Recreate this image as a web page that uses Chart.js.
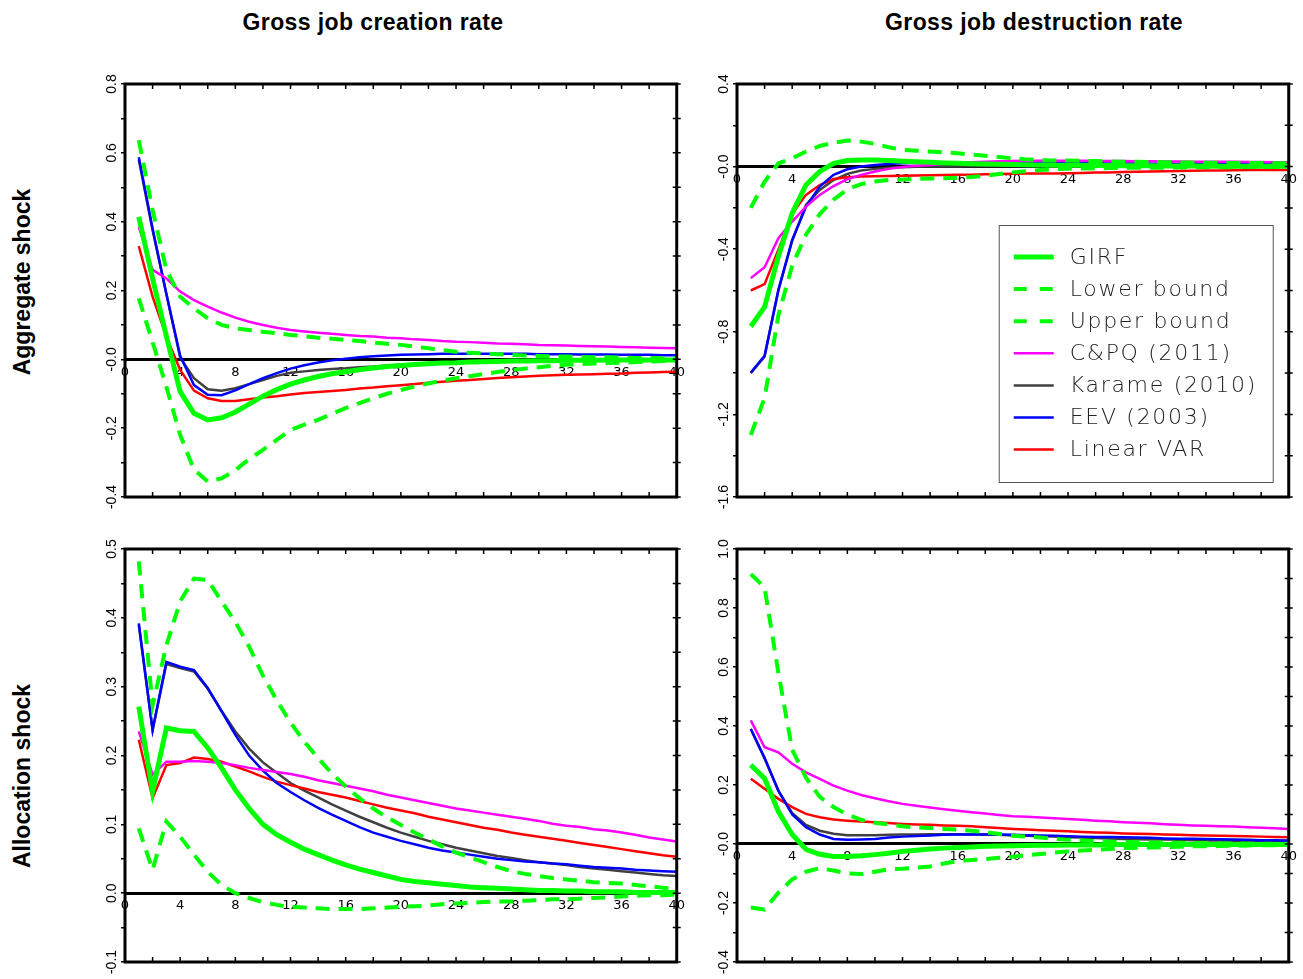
<!DOCTYPE html>
<html>
<head>
<meta charset="utf-8">
<script src="https://cdn.jsdelivr.net/npm/chart.js@4.4.1/dist/chart.umd.min.js"></script>
<style>
  body { margin: 0; background: #fff; width: 1303px; height: 979px; position: relative; overflow: hidden; }
  .panel { position: absolute; width: 600px; height: 440px; }
  .title { position: absolute; top: 11px; width: 400px; text-align: center; font: bold 23px "Liberation Sans", Arial, sans-serif; line-height: 23px; letter-spacing: 0.4px; color: #000; }
  .rowlab { position: absolute; font: bold 23px "Liberation Sans", Arial, sans-serif; line-height: 23px; white-space: nowrap; transform: translate(-50%, -50%) rotate(-90deg); color: #000; }
</style>
</head>
<body>
<div class="title" style="left:173px">Gross job creation rate</div>
<div class="title" style="left:834px">Gross job destruction rate</div>
<div class="rowlab" style="left:22px; top:282px">Aggregate shock</div>
<div class="rowlab" style="left:22px; top:776px">Allocation shock</div>

<div class="panel" style="left:90px; top:70px"><canvas id="jcAgg"></canvas></div>
<div class="panel" style="left:702px; top:70px"><canvas id="jdAgg"></canvas></div>
<div class="panel" style="left:90px; top:535px"><canvas id="jcAll"></canvas></div>
<div class="panel" style="left:702px; top:535px"><canvas id="jdAll"></canvas></div>

<script>
const horizons = [1,2,3,4,5,6,7,8,9,10,11,12,13,14,15,16,17,18,19,20,21,22,23,24,25,26,27,28,29,30,31,32,33,34,35,36,37,38,39,40];
const seriesNames = ["GIRF", "Lower bound", "Upper bound", "C&PQ (2011)", "Karame (2010)", "EEV (2003)", "Linear VAR"];

// job creation, aggregate shock
const jcAggGirf = [0.414,0.235,0.067,-0.094,-0.157,-0.176,-0.17,-0.153,-0.13,-0.107,-0.088,-0.072,-0.06,-0.05,-0.042,-0.036,-0.03,-0.025,-0.021,-0.018,-0.015,-0.013,-0.011,-0.01,-0.008,-0.007,-0.006,-0.005,-0.005,-0.004,-0.004,-0.003,-0.003,-0.003,-0.002,-0.002,-0.002,-0.002,-0.002,-0.002];
const jcAggLower = [0.177,0.05,-0.08,-0.22,-0.32,-0.355,-0.346,-0.322,-0.29,-0.263,-0.234,-0.205,-0.19,-0.176,-0.158,-0.142,-0.127,-0.113,-0.1,-0.089,-0.079,-0.07,-0.062,-0.055,-0.049,-0.043,-0.037,-0.031,-0.027,-0.023,-0.019,-0.016,-0.014,-0.012,-0.011,-0.01,-0.008,-0.007,-0.005,-0.004];
const jcAggUpper = [0.637,0.434,0.26,0.182,0.148,0.119,0.1,0.09,0.085,0.08,0.076,0.071,0.067,0.063,0.06,0.056,0.053,0.049,0.045,0.042,0.037,0.032,0.027,0.022,0.019,0.017,0.015,0.013,0.011,0.01,0.009,0.008,0.007,0.006,0.006,0.005,0.004,0.004,0.003,0.003];
const jcAggCpq = [0.385,0.26,0.235,0.197,0.172,0.153,0.136,0.121,0.109,0.1,0.092,0.085,0.081,0.077,0.074,0.071,0.068,0.066,0.063,0.061,0.058,0.056,0.053,0.051,0.05,0.048,0.046,0.045,0.044,0.042,0.041,0.04,0.039,0.038,0.037,0.036,0.035,0.034,0.033,0.032];
const jcAggKarame = [0.58,0.375,0.19,0.005,-0.055,-0.087,-0.091,-0.084,-0.072,-0.06,-0.048,-0.039,-0.035,-0.031,-0.028,-0.026,-0.023,-0.021,-0.018,-0.016,-0.014,-0.012,-0.01,-0.009,-0.008,-0.007,-0.006,-0.005,-0.005,-0.004,-0.004,-0.004,-0.003,-0.003,-0.003,-0.003,-0.002,-0.002,-0.002,-0.002];
const jcAggEev = [0.587,0.38,0.19,0.01,-0.075,-0.103,-0.104,-0.09,-0.072,-0.055,-0.04,-0.027,-0.017,-0.009,-0.003,0.002,0.006,0.009,0.011,0.013,0.014,0.015,0.016,0.016,0.016,0.016,0.016,0.016,0.016,0.015,0.015,0.015,0.014,0.014,0.014,0.013,0.013,0.013,0.012,0.012];
const jcAggVar = [0.329,0.182,0.066,-0.031,-0.091,-0.113,-0.121,-0.121,-0.116,-0.111,-0.107,-0.102,-0.098,-0.095,-0.092,-0.089,-0.085,-0.082,-0.078,-0.075,-0.072,-0.068,-0.065,-0.062,-0.06,-0.057,-0.054,-0.052,-0.05,-0.048,-0.046,-0.045,-0.044,-0.043,-0.042,-0.041,-0.039,-0.038,-0.037,-0.036];

// job destruction, aggregate shock
const jdAggGirf = [-0.774,-0.68,-0.435,-0.226,-0.089,-0.024,0.016,0.029,0.032,0.032,0.03,0.026,0.023,0.021,0.018,0.016,0.014,0.013,0.011,0.01,0.009,0.008,0.007,0.006,0.006,0.005,0.005,0.004,0.004,0.004,0.003,0.003,0.003,0.003,0.002,0.002,0.002,0.002,0.002,0.002];
const jdAggLower = [-1.3,-1.12,-0.72,-0.48,-0.33,-0.23,-0.16,-0.11,-0.085,-0.072,-0.065,-0.062,-0.06,-0.058,-0.056,-0.054,-0.05,-0.044,-0.036,-0.028,-0.022,-0.017,-0.013,-0.01,-0.009,-0.008,-0.007,-0.006,-0.006,-0.005,-0.005,-0.004,-0.004,-0.003,-0.003,-0.003,-0.002,-0.002,-0.002,-0.002];
const jdAggUpper = [-0.2,-0.073,0.016,0.04,0.073,0.1,0.116,0.126,0.121,0.11,0.094,0.081,0.077,0.073,0.069,0.065,0.058,0.052,0.046,0.04,0.035,0.031,0.03,0.029,0.028,0.027,0.025,0.024,0.023,0.022,0.021,0.02,0.02,0.019,0.018,0.018,0.017,0.017,0.016,0.016];
const jdAggCpq = [-0.54,-0.487,-0.347,-0.266,-0.194,-0.137,-0.094,-0.061,-0.04,-0.024,-0.011,-0.002,0.004,0.008,0.013,0.018,0.021,0.024,0.026,0.027,0.028,0.028,0.028,0.028,0.028,0.027,0.027,0.027,0.026,0.026,0.025,0.025,0.024,0.024,0.023,0.023,0.022,0.022,0.021,0.021];
const jdAggKarame = [-1.0,-0.92,-0.6,-0.36,-0.185,-0.113,-0.065,-0.035,-0.019,-0.011,-0.006,-0.003,-0.001,0.0,0.001,0.001,0.002,0.002,0.002,0.002,0.002,0.002,0.002,0.002,0.002,0.002,0.002,0.002,0.002,0.002,0.002,0.002,0.002,0.002,0.002,0.002,0.002,0.002,0.002,0.002];
const jdAggEev = [-0.997,-0.916,-0.597,-0.355,-0.194,-0.097,-0.04,-0.013,0.0,0.008,0.013,0.016,0.018,0.019,0.019,0.019,0.019,0.018,0.018,0.018,0.017,0.017,0.017,0.016,0.016,0.016,0.015,0.015,0.015,0.014,0.014,0.014,0.013,0.013,0.013,0.013,0.012,0.012,0.012,0.012];
const jdAggVar = [-0.6,-0.569,-0.403,-0.229,-0.137,-0.089,-0.06,-0.052,-0.048,-0.047,-0.046,-0.044,-0.043,-0.042,-0.041,-0.04,-0.039,-0.037,-0.036,-0.035,-0.034,-0.034,-0.033,-0.032,-0.031,-0.029,-0.028,-0.026,-0.025,-0.024,-0.022,-0.021,-0.02,-0.019,-0.019,-0.018,-0.017,-0.017,-0.016,-0.016];

// job creation, allocation shock
const jcAllGirf = [0.271,0.148,0.24,0.236,0.235,0.211,0.182,0.15,0.123,0.1,0.085,0.074,0.064,0.056,0.048,0.041,0.035,0.03,0.025,0.02,0.017,0.015,0.013,0.011,0.009,0.008,0.007,0.006,0.005,0.004,0.004,0.003,0.003,0.002,0.002,0.002,0.001,0.001,0.001,0.001];
const jcAllLower = [0.094,0.034,0.104,0.082,0.056,0.031,0.012,0.0,-0.007,-0.013,-0.017,-0.02,-0.021,-0.022,-0.023,-0.023,-0.023,-0.022,-0.021,-0.02,-0.019,-0.018,-0.016,-0.015,-0.014,-0.013,-0.012,-0.012,-0.011,-0.01,-0.009,-0.009,-0.008,-0.007,-0.006,-0.005,-0.004,-0.003,-0.003,-0.002];
const jcAllUpper = [0.482,0.273,0.36,0.424,0.457,0.455,0.424,0.394,0.358,0.316,0.28,0.248,0.22,0.196,0.174,0.155,0.138,0.123,0.11,0.099,0.088,0.078,0.068,0.059,0.052,0.045,0.038,0.032,0.028,0.025,0.022,0.02,0.018,0.016,0.015,0.014,0.012,0.01,0.008,0.006];
const jcAllCpq = [0.235,0.172,0.191,0.191,0.192,0.191,0.189,0.186,0.182,0.179,0.176,0.173,0.169,0.164,0.16,0.156,0.152,0.148,0.143,0.139,0.135,0.131,0.127,0.123,0.12,0.117,0.114,0.111,0.108,0.105,0.101,0.098,0.096,0.093,0.091,0.088,0.085,0.081,0.078,0.075];
const jcAllKarame = [0.39,0.237,0.333,0.327,0.322,0.297,0.265,0.235,0.21,0.19,0.175,0.16,0.149,0.139,0.129,0.12,0.111,0.103,0.095,0.088,0.082,0.076,0.071,0.066,0.062,0.058,0.054,0.051,0.048,0.045,0.043,0.041,0.038,0.036,0.034,0.032,0.03,0.028,0.026,0.025];
const jcAllEev = [0.392,0.237,0.336,0.329,0.324,0.298,0.264,0.23,0.2,0.178,0.16,0.147,0.135,0.124,0.114,0.105,0.096,0.088,0.082,0.076,0.071,0.066,0.062,0.059,0.056,0.053,0.05,0.048,0.046,0.045,0.043,0.042,0.04,0.038,0.037,0.036,0.034,0.033,0.032,0.031];
const jcAllVar = [0.223,0.138,0.186,0.189,0.197,0.195,0.191,0.184,0.177,0.169,0.162,0.157,0.152,0.147,0.143,0.139,0.134,0.129,0.124,0.12,0.116,0.111,0.107,0.103,0.099,0.095,0.092,0.088,0.085,0.082,0.079,0.076,0.073,0.07,0.067,0.064,0.061,0.058,0.055,0.053];

// job destruction, allocation shock
const jdAllGirf = [0.268,0.222,0.11,0.032,-0.018,-0.035,-0.042,-0.042,-0.04,-0.036,-0.031,-0.025,-0.021,-0.017,-0.014,-0.012,-0.01,-0.008,-0.007,-0.006,-0.005,-0.004,-0.004,-0.003,-0.003,-0.003,-0.002,-0.002,-0.002,-0.002,-0.002,-0.002,-0.002,-0.002,-0.002,-0.002,-0.002,-0.002,-0.002,-0.002];
const jdAllLower = [-0.215,-0.222,-0.165,-0.12,-0.094,-0.082,-0.09,-0.1,-0.102,-0.094,-0.086,-0.084,-0.08,-0.076,-0.066,-0.058,-0.054,-0.051,-0.047,-0.043,-0.038,-0.034,-0.029,-0.025,-0.022,-0.02,-0.017,-0.014,-0.013,-0.012,-0.011,-0.009,-0.008,-0.008,-0.007,-0.006,-0.005,-0.004,-0.004,-0.003];
const jdAllUpper = [0.915,0.87,0.58,0.32,0.225,0.16,0.125,0.1,0.082,0.072,0.066,0.06,0.056,0.054,0.051,0.049,0.045,0.04,0.034,0.028,0.025,0.022,0.018,0.014,0.012,0.01,0.008,0.007,0.006,0.005,0.005,0.004,0.003,0.003,0.002,0.002,0.001,0.001,0.0,0.0];
const jdAllCpq = [0.419,0.328,0.311,0.272,0.243,0.221,0.198,0.181,0.166,0.155,0.145,0.136,0.13,0.124,0.118,0.113,0.108,0.103,0.098,0.094,0.092,0.09,0.087,0.085,0.082,0.079,0.077,0.074,0.072,0.07,0.067,0.065,0.063,0.062,0.06,0.059,0.057,0.055,0.053,0.051];
const jdAllKarame = [0.39,0.29,0.18,0.105,0.065,0.045,0.035,0.03,0.03,0.03,0.031,0.032,0.032,0.033,0.033,0.033,0.032,0.032,0.031,0.029,0.028,0.026,0.025,0.023,0.022,0.02,0.019,0.017,0.016,0.015,0.015,0.014,0.013,0.012,0.012,0.011,0.011,0.01,0.01,0.009];
const jdAllEev = [0.39,0.292,0.181,0.1,0.057,0.032,0.017,0.014,0.015,0.017,0.022,0.025,0.027,0.029,0.031,0.032,0.032,0.032,0.032,0.031,0.03,0.029,0.028,0.026,0.025,0.024,0.024,0.023,0.022,0.021,0.019,0.018,0.018,0.017,0.016,0.015,0.014,0.013,0.013,0.012];
const jdAllVar = [0.221,0.187,0.153,0.125,0.102,0.091,0.083,0.079,0.076,0.074,0.071,0.068,0.066,0.065,0.063,0.062,0.06,0.057,0.054,0.051,0.049,0.047,0.045,0.043,0.041,0.039,0.038,0.036,0.035,0.034,0.032,0.031,0.03,0.029,0.028,0.027,0.026,0.025,0.024,0.023];

// line look per series, same order as seriesNames
const lineColors = ["#00ff00", "#00ff00", "#00ff00", "#ff00ff", "#404040", "#0000ff", "#ff0000"];
const lineWidths = [5, 4, 4, 2.5, 2.5, 2.5, 2.5];
const lineDashes = [[], [14, 9], [14, 9], [], [], [], []];
const drawOrder = [0, 0, 0, 0, 1, 0, 0]; // Karame sits under EEV

const thinFont = '"DejaVu Sans", sans-serif';

// box + tick marks round the plot area
const framePlugin = {
  id: "frame",
  afterDraw(chart) {
    const {ctx, chartArea: a, scales: {x, y}} = chart;
    ctx.save();
    ctx.strokeStyle = "#000";
    ctx.lineWidth = 1.5;
    ctx.beginPath();
    x.ticks.forEach(t => {
      const px = x.getPixelForValue(t.value);
      ctx.moveTo(px, a.top); ctx.lineTo(px, a.top + 5);
      ctx.moveTo(px, a.bottom); ctx.lineTo(px, a.bottom - 5);
    });
    y.ticks.forEach(t => {
      const py = y.getPixelForValue(t.value);
      ctx.moveTo(a.right - 4, py); ctx.lineTo(a.right + 4, py);
    });
    ctx.stroke();
    ctx.lineWidth = 3;
    ctx.strokeRect(a.left, a.top, a.right - a.left, a.bottom - a.top);
    ctx.restore();
  }
};

// legend box drawn inside the plot area (only used on one panel)
const boxLegend = {
  id: "boxLegend",
  afterDraw(chart, args, opts) {
    if (!opts.show) return;
    const {ctx, chartArea: a} = chart;
    const w = 274, h = 257;
    const left = a.right - 16 - w, top = a.bottom - 15 - h;
    ctx.save();
    ctx.fillStyle = "#fff";
    ctx.fillRect(left, top, w, h);
    ctx.strokeStyle = "#555";
    ctx.lineWidth = 1;
    ctx.strokeRect(left + 0.5, top + 0.5, w, h);
    ctx.font = "200 22px " + thinFont;
    ctx.letterSpacing = "1.7px";
    ctx.textBaseline = "middle";
    ctx.fillStyle = "#222";
    chart.data.datasets.forEach((ds, i) => {
      const cy = top + 32 + i * 32.1;
      ctx.strokeStyle = ds.borderColor;
      ctx.lineWidth = ds.borderWidth;
      ctx.setLineDash(ds.borderDash.length ? [13, 13] : []);
      ctx.beginPath();
      ctx.moveTo(left + 15, cy);
      ctx.lineTo(left + 55, cy);
      ctx.stroke();
      ctx.fillText(ds.label, left + 71, cy + 1);
    });
    ctx.restore();
  }
};

function makePanel(id, series, yMin, yMax, yStep, zeroText, showLegend) {
  new Chart(document.getElementById(id), {
    type: "line",
    data: {
      datasets: series.map((vals, i) => ({
        label: seriesNames[i],
        data: horizons.map((h, k) => ({x: h, y: vals[k]})),
        borderColor: lineColors[i],
        borderWidth: lineWidths[i],
        borderDash: lineDashes[i],
        order: drawOrder[i],
        pointRadius: 0,
        tension: 0,
        fill: false
      }))
    },
    options: {
      responsive: true,
      maintainAspectRatio: false,
      animation: false,
      layout: { padding: { left: 0, top: 14, right: 11, bottom: 13 } },
      plugins: {
        legend: { display: false },
        tooltip: { enabled: false },
        boxLegend: { show: showLegend }
      },
      scales: {
        x: {
          type: "linear",
          min: 0,
          max: 40,
          position: { y: 0 },
          grid: { display: false, drawTicks: false },
          border: { display: true, width: 3, color: "#000" },
          ticks: {
            stepSize: 2,
            autoSkip: false,
            maxRotation: 0,
            padding: 5,
            color: "#000",
            font: { family: thinFont, size: 13 },
            callback: v => (v % 4 === 0 ? String(v) : "")
          }
        },
        y: {
          min: yMin,
          max: yMax,
          afterFit: s => { s.width = 35; },
          grid: { display: true, drawOnChartArea: false, drawTicks: true, tickLength: 4, color: "#000", lineWidth: 1.5 },
          border: { display: false },
          ticks: {
            stepSize: yStep,
            autoSkip: false,
            minRotation: 90,
            maxRotation: 90,
            crossAlign: "center",
            padding: -3,
            color: "#000",
            font: { family: '"Liberation Sans", Arial, sans-serif', size: 14 },
            callback: v => {
              const k = Math.round(v / yStep);
              if (k % 2 !== 0) return "";
              if (Math.abs(v) < 1e-9) return zeroText;
              return v.toFixed(1);
            }
          }
        }
      }
    },
    plugins: [framePlugin, boxLegend]
  });
}

makePanel("jcAgg", [jcAggGirf, jcAggLower, jcAggUpper, jcAggCpq, jcAggKarame, jcAggEev, jcAggVar], -0.4, 0.8, 0.1, "-0.0", false);
makePanel("jdAgg", [jdAggGirf, jdAggLower, jdAggUpper, jdAggCpq, jdAggKarame, jdAggEev, jdAggVar], -1.6, 0.4, 0.2, "-0.0", true);
makePanel("jcAll", [jcAllGirf, jcAllLower, jcAllUpper, jcAllCpq, jcAllKarame, jcAllEev, jcAllVar], -0.1, 0.5, 0.05, "0.0", false);
makePanel("jdAll", [jdAllGirf, jdAllLower, jdAllUpper, jdAllCpq, jdAllKarame, jdAllEev, jdAllVar], -0.4, 1.0, 0.1, "-0.0", false);
</script>
</body>
</html>
